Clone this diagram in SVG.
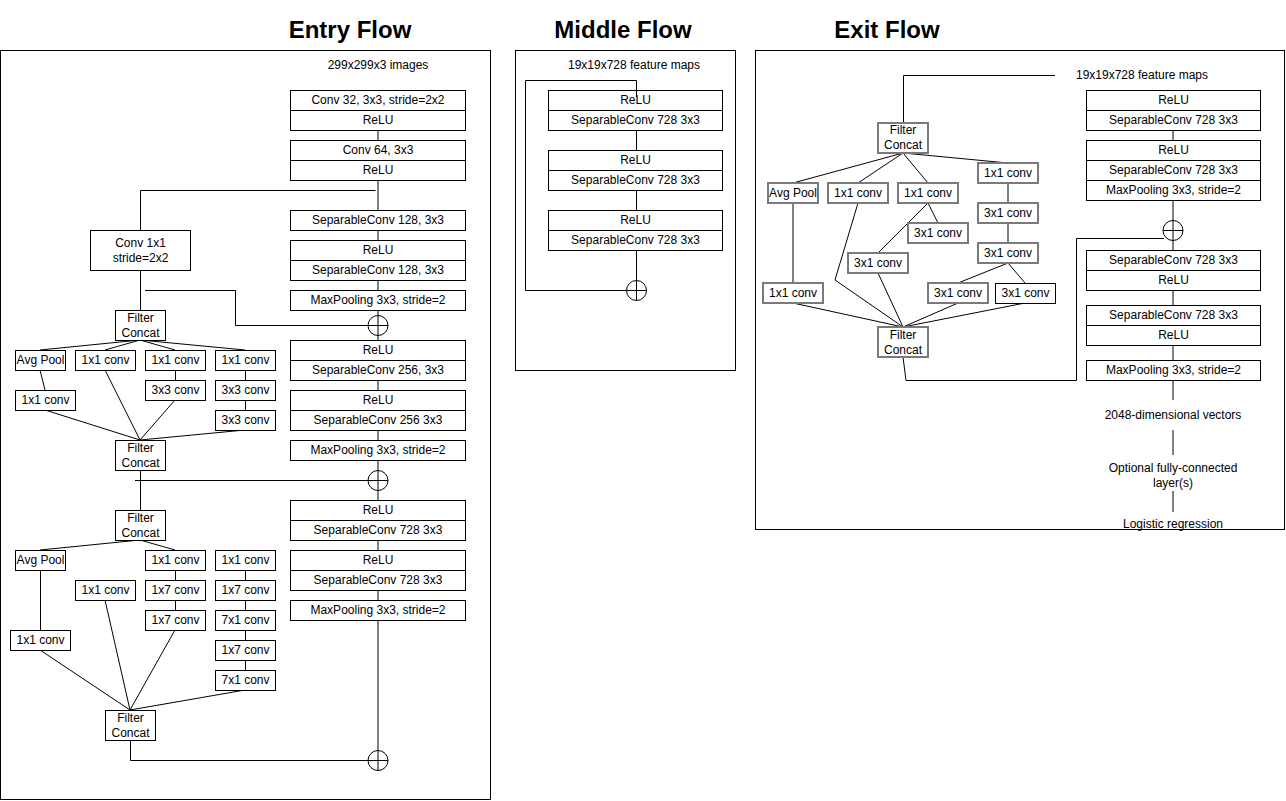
<svg xmlns="http://www.w3.org/2000/svg" width="1286" height="801" viewBox="0 0 1286 801">
<style>
.t{font-family:"Liberation Sans",Arial,sans-serif;font-size:12px;text-anchor:middle;fill:#000}
.h{font-family:"Liberation Sans",Arial,sans-serif;font-size:24px;font-weight:bold;text-anchor:middle;fill:#000}
.b{fill:#fff;stroke:#000;stroke-width:1}
.g{fill:#fff;stroke:#7a7a7a;stroke-width:2}
.f{fill:none;stroke:#000;stroke-width:1}
.k{fill:none;stroke:#000;stroke-width:1}
.gl{fill:none;stroke:#808080;stroke-width:2}
.c{fill:#fff;stroke:#000;stroke-width:1}
</style>
<defs>
<g id="plus"><circle class="c" cx="0" cy="0" r="10"/><path class="k" d="M-10,0H10M0,-10V10"/></g>
</defs>
<rect width="1286" height="801" fill="#fff"/>

<!-- titles and frames -->
<g id="titles">
<text class="h" x="350" y="38">Entry Flow</text>
<text class="h" x="623" y="38">Middle Flow</text>
<text class="h" x="887" y="38">Exit Flow</text>
</g>
<g id="frames">
<rect class="f" x="0.5" y="50.5" width="490" height="749"/>
<rect class="f" x="515.5" y="50.5" width="220" height="320"/>
<rect class="f" x="755.5" y="50.5" width="529" height="479"/>
</g>

<!-- connectors -->
<g id="connectors">
<!-- entry main trunk -->
<path class="gl" d="M378,130V750"/>
<!-- entry left -->
<path class="k" d="M375.5,190.5H140.5V230"/>
<path class="k" d="M140.5,270V310"/>
<path class="k" d="M145,290.5H235.5V325.5H368"/>
<path class="k" d="M140,340L40,350M140,340L105,350M140,340L175,350M140,340L245,350"/>
<path class="k" d="M40,370L45,390M105,370L140,440M175.5,370V380M175,400L140,440M245.5,370V380M245.5,400V410M245,430L140,440M45,410L140,440"/>
<path class="k" d="M140.5,470V510"/>
<path class="k" d="M135,480.5H368"/>
<path class="k" d="M140,540L40,550M140,540L175,550"/>
<path class="k" d="M40.5,570V630M40,650L130,710M105,600L130,710"/>
<path class="k" d="M175.5,570V580M175.5,600V610M175,630L130,710"/>
<path class="k" d="M245.5,570V580M245.5,600V610M245.5,630V640M245.5,660V670M245,690L130,710"/>
<path class="k" d="M130.5,740V760.5H368"/>
<!-- middle -->
<path class="k" d="M636.5,130V150M636.5,190V210M636.5,250V280"/>
<path class="k" d="M636.5,97V80.5H525.5V290.5H626"/>
<!-- exit right trunk -->
<path class="gl" d="M1173,130V140M1173,200V220M1173,240V250M1173,290V305M1173,345V360M1173,380V400M1173,430V455M1173,491V512"/>
<!-- exit left -->
<path class="k" d="M1055,75.5H903.5V123"/>
<path class="k" d="M903,153L793,183M903,153L858,183M903,153L928,183M903,153L1008,163"/>
<path class="gl" d="M793,203V283M1008,183V203M1008,223V243"/>
<path class="k" d="M858,203L835,280L903,327"/>
<path class="k" d="M928,203L938,223M928,203L878,253M878,273L903,327"/>
<path class="k" d="M1008,263L958,283M1008,263L1025,283"/>
<path class="k" d="M793,303L903,327M958,303L903,327M1025,303L903,327"/>
<path class="k" d="M903,357L906,380.5H1076.5V238.5H1164"/>
</g>

<!-- ENTRY FLOW nodes -->
<g id="entry-input"><text class="t" x="378" y="69">299x299x3 images</text></g>
<g id="entry-conv32">
<rect class="b" x="290.5" y="90.5" width="175" height="40"/><path class="k" d="M290.5,110.5H465.5"/>
<text class="t" x="378" y="104">Conv 32, 3x3, stride=2x2</text><text class="t" x="378" y="124">ReLU</text>
</g>
<g id="entry-conv64">
<rect class="b" x="290.5" y="140.5" width="175" height="40"/><path class="k" d="M290.5,160.5H465.5"/>
<text class="t" x="378" y="154">Conv 64, 3x3</text><text class="t" x="378" y="174">ReLU</text>
</g>
<g id="entry-sep128a">
<rect class="b" x="290.5" y="210.5" width="175" height="20"/>
<text class="t" x="378" y="224">SeparableConv 128, 3x3</text>
</g>
<g id="entry-sep128b">
<rect class="b" x="290.5" y="240.5" width="175" height="40"/><path class="k" d="M290.5,260.5H465.5"/>
<text class="t" x="378" y="254">ReLU</text><text class="t" x="378" y="274">SeparableConv 128, 3x3</text>
</g>
<g id="entry-pool1">
<rect class="b" x="290.5" y="290.5" width="175" height="20"/>
<text class="t" x="378" y="304">MaxPooling 3x3, stride=2</text>
</g>
<g id="entry-add1"><use href="#plus" x="378" y="325.5"/></g>
<g id="entry-sep256a">
<rect class="b" x="290.5" y="340.5" width="175" height="40"/><path class="k" d="M290.5,360.5H465.5"/>
<text class="t" x="378" y="354">ReLU</text><text class="t" x="378" y="374">SeparableConv 256, 3x3</text>
</g>
<g id="entry-sep256b">
<rect class="b" x="290.5" y="390.5" width="175" height="40"/><path class="k" d="M290.5,410.5H465.5"/>
<text class="t" x="378" y="404">ReLU</text><text class="t" x="378" y="424">SeparableConv 256 3x3</text>
</g>
<g id="entry-pool2">
<rect class="b" x="290.5" y="440.5" width="175" height="20"/>
<text class="t" x="378" y="454">MaxPooling 3x3, stride=2</text>
</g>
<g id="entry-add2"><use href="#plus" x="378" y="480.5"/></g>
<g id="entry-sep728a">
<rect class="b" x="290.5" y="500.5" width="175" height="40"/><path class="k" d="M290.5,520.5H465.5"/>
<text class="t" x="378" y="514">ReLU</text><text class="t" x="378" y="534">SeparableConv 728 3x3</text>
</g>
<g id="entry-sep728b">
<rect class="b" x="290.5" y="550.5" width="175" height="40"/><path class="k" d="M290.5,570.5H465.5"/>
<text class="t" x="378" y="564">ReLU</text><text class="t" x="378" y="584">SeparableConv 728 3x3</text>
</g>
<g id="entry-pool3">
<rect class="b" x="290.5" y="600.5" width="175" height="20"/>
<text class="t" x="378" y="614">MaxPooling 3x3, stride=2</text>
</g>
<g id="entry-add3"><use href="#plus" x="378" y="760.5"/></g>

<g id="entry-conv1x1s2">
<rect class="b" x="90.5" y="230.5" width="100" height="40"/>
<text class="t" x="140.5" y="247">Conv 1x1</text><text class="t" x="140.5" y="262">stride=2x2</text>
</g>
<g id="entry-fc1">
<rect class="b" x="115.5" y="310.5" width="50" height="30"/>
<text class="t" x="140.5" y="322">Filter</text><text class="t" x="140.5" y="337">Concat</text>
</g>
<g id="entry-a-avgpool"><rect class="b" x="15.5" y="350.5" width="50" height="20"/><text class="t" x="40.5" y="364">Avg Pool</text></g>
<g id="entry-a-1x1a"><rect class="b" x="75.5" y="350.5" width="60" height="20"/><text class="t" x="105.5" y="364">1x1 conv</text></g>
<g id="entry-a-1x1b"><rect class="b" x="145.5" y="350.5" width="60" height="20"/><text class="t" x="175.5" y="364">1x1 conv</text></g>
<g id="entry-a-1x1c"><rect class="b" x="215.5" y="350.5" width="60" height="20"/><text class="t" x="245.5" y="364">1x1 conv</text></g>
<g id="entry-a-1x1d"><rect class="b" x="15.5" y="390.5" width="60" height="20"/><text class="t" x="45.5" y="404">1x1 conv</text></g>
<g id="entry-a-3x3a"><rect class="b" x="145.5" y="380.5" width="60" height="20"/><text class="t" x="175.5" y="394">3x3 conv</text></g>
<g id="entry-a-3x3b"><rect class="b" x="215.5" y="380.5" width="60" height="20"/><text class="t" x="245.5" y="394">3x3 conv</text></g>
<g id="entry-a-3x3c"><rect class="b" x="215.5" y="410.5" width="60" height="20"/><text class="t" x="245.5" y="424">3x3 conv</text></g>
<g id="entry-fc2">
<rect class="b" x="115.5" y="440.5" width="50" height="30"/>
<text class="t" x="140.5" y="452">Filter</text><text class="t" x="140.5" y="467">Concat</text>
</g>
<g id="entry-fc3">
<rect class="b" x="115.5" y="510.5" width="50" height="30"/>
<text class="t" x="140.5" y="522">Filter</text><text class="t" x="140.5" y="537">Concat</text>
</g>
<g id="entry-b-avgpool"><rect class="b" x="15.5" y="550.5" width="50" height="20"/><text class="t" x="40.5" y="564">Avg Pool</text></g>
<g id="entry-b-1x1a"><rect class="b" x="145.5" y="550.5" width="60" height="20"/><text class="t" x="175.5" y="564">1x1 conv</text></g>
<g id="entry-b-1x1b"><rect class="b" x="215.5" y="550.5" width="60" height="20"/><text class="t" x="245.5" y="564">1x1 conv</text></g>
<g id="entry-b-1x1c"><rect class="b" x="75.5" y="580.5" width="60" height="20"/><text class="t" x="105.5" y="594">1x1 conv</text></g>
<g id="entry-b-1x7a"><rect class="b" x="145.5" y="580.5" width="60" height="20"/><text class="t" x="175.5" y="594">1x7 conv</text></g>
<g id="entry-b-1x7b"><rect class="b" x="145.5" y="610.5" width="60" height="20"/><text class="t" x="175.5" y="624">1x7 conv</text></g>
<g id="entry-b-1x7c"><rect class="b" x="215.5" y="580.5" width="60" height="20"/><text class="t" x="245.5" y="594">1x7 conv</text></g>
<g id="entry-b-7x1a"><rect class="b" x="215.5" y="610.5" width="60" height="20"/><text class="t" x="245.5" y="624">7x1 conv</text></g>
<g id="entry-b-1x7d"><rect class="b" x="215.5" y="640.5" width="60" height="20"/><text class="t" x="245.5" y="654">1x7 conv</text></g>
<g id="entry-b-7x1b"><rect class="b" x="215.5" y="670.5" width="60" height="20"/><text class="t" x="245.5" y="684">7x1 conv</text></g>
<g id="entry-b-1x1d"><rect class="b" x="10.5" y="630.5" width="60" height="20"/><text class="t" x="40.5" y="644">1x1 conv</text></g>
<g id="entry-fc4">
<rect class="b" x="105.5" y="710.5" width="50" height="30"/>
<text class="t" x="130.5" y="722">Filter</text><text class="t" x="130.5" y="737">Concat</text>
</g>

<!-- MIDDLE FLOW nodes -->
<g id="middle-input"><text class="t" x="634" y="69">19x19x728 feature maps</text></g>
<g id="middle-sep1">
<rect class="b" x="548.5" y="90.5" width="174" height="40"/><path class="k" d="M548.5,110.5H722.5"/>
<text class="t" x="635.5" y="104">ReLU</text><text class="t" x="635.5" y="124">SeparableConv 728 3x3</text>
</g>
<g id="middle-sep2">
<rect class="b" x="548.5" y="150.5" width="174" height="40"/><path class="k" d="M548.5,170.5H722.5"/>
<text class="t" x="635.5" y="164">ReLU</text><text class="t" x="635.5" y="184">SeparableConv 728 3x3</text>
</g>
<g id="middle-sep3">
<rect class="b" x="548.5" y="210.5" width="174" height="40"/><path class="k" d="M548.5,230.5H722.5"/>
<text class="t" x="635.5" y="224">ReLU</text><text class="t" x="635.5" y="244">SeparableConv 728 3x3</text>
</g>
<g id="middle-add"><use href="#plus" x="636.5" y="290.5"/></g>
<path class="k" d="M636.5,90V97"/>

<!-- EXIT FLOW nodes -->
<g id="exit-input"><text class="t" x="1142" y="79">19x19x728 feature maps</text></g>
<g id="exit-sep1">
<rect class="b" x="1086.5" y="90.5" width="174" height="40"/><path class="k" d="M1086.5,110.5H1260.5"/>
<text class="t" x="1173.5" y="104">ReLU</text><text class="t" x="1173.5" y="124">SeparableConv 728 3x3</text>
</g>
<g id="exit-sep2">
<rect class="b" x="1086.5" y="140.5" width="174" height="60"/><path class="k" d="M1086.5,160.5H1260.5M1086.5,180.5H1260.5"/>
<text class="t" x="1173.5" y="154">ReLU</text><text class="t" x="1173.5" y="174">SeparableConv 728 3x3</text><text class="t" x="1173.5" y="194">MaxPooling 3x3, stride=2</text>
</g>
<g id="exit-add"><use href="#plus" x="1173" y="230.5"/></g>
<g id="exit-sep3">
<rect class="b" x="1086.5" y="250.5" width="174" height="40"/><path class="k" d="M1086.5,270.5H1260.5"/>
<text class="t" x="1173.5" y="264">SeparableConv 728 3x3</text><text class="t" x="1173.5" y="284">ReLU</text>
</g>
<g id="exit-sep4">
<rect class="b" x="1086.5" y="305.5" width="174" height="40"/><path class="k" d="M1086.5,325.5H1260.5"/>
<text class="t" x="1173.5" y="319">SeparableConv 728 3x3</text><text class="t" x="1173.5" y="339">ReLU</text>
</g>
<g id="exit-pool">
<rect class="b" x="1086.5" y="360.5" width="174" height="20"/>
<text class="t" x="1173.5" y="374">MaxPooling 3x3, stride=2</text>
</g>
<g id="exit-vec"><text class="t" x="1173" y="419">2048-dimensional vectors</text></g>
<g id="exit-fc"><text class="t" x="1173" y="472">Optional fully-connected</text><text class="t" x="1173" y="487">layer(s)</text></g>
<g id="exit-logreg"><text class="t" x="1173" y="528">Logistic regression</text></g>

<g id="exit-fc-top">
<rect class="g" x="878" y="123" width="50" height="30"/>
<text class="t" x="903" y="134">Filter</text><text class="t" x="903" y="149">Concat</text>
</g>
<g id="exit-avgpool"><rect class="g" x="768" y="183" width="50" height="20"/><text class="t" x="793" y="197">Avg Pool</text></g>
<g id="exit-1x1a"><rect class="g" x="828" y="183" width="60" height="20"/><text class="t" x="858" y="197">1x1 conv</text></g>
<g id="exit-1x1b"><rect class="g" x="898" y="183" width="60" height="20"/><text class="t" x="928" y="197">1x1 conv</text></g>
<g id="exit-1x1c"><rect class="g" x="978" y="163" width="60" height="20"/><text class="t" x="1008" y="177">1x1 conv</text></g>
<g id="exit-3x1a"><rect class="g" x="978" y="203" width="60" height="20"/><text class="t" x="1008" y="217">3x1 conv</text></g>
<g id="exit-3x1b"><rect class="g" x="908" y="223" width="60" height="20"/><text class="t" x="938" y="237">3x1 conv</text></g>
<g id="exit-3x1c"><rect class="g" x="978" y="243" width="60" height="20"/><text class="t" x="1008" y="257">3x1 conv</text></g>
<g id="exit-3x1d"><rect class="g" x="848" y="253" width="60" height="20"/><text class="t" x="878" y="267">3x1 conv</text></g>
<g id="exit-1x1d"><rect class="g" x="763" y="283" width="60" height="20"/><text class="t" x="793" y="297">1x1 conv</text></g>
<g id="exit-3x1e"><rect class="g" x="928" y="283" width="60" height="20"/><text class="t" x="958" y="297">3x1 conv</text></g>
<g id="exit-3x1f"><rect class="b" x="995.5" y="283.5" width="60" height="20"/><text class="t" x="1025.5" y="297">3x1 conv</text></g>
<g id="exit-fc-bottom">
<rect class="g" x="878" y="327" width="50" height="30"/>
<text class="t" x="903" y="339">Filter</text><text class="t" x="903" y="354">Concat</text>
</g>
</svg>
